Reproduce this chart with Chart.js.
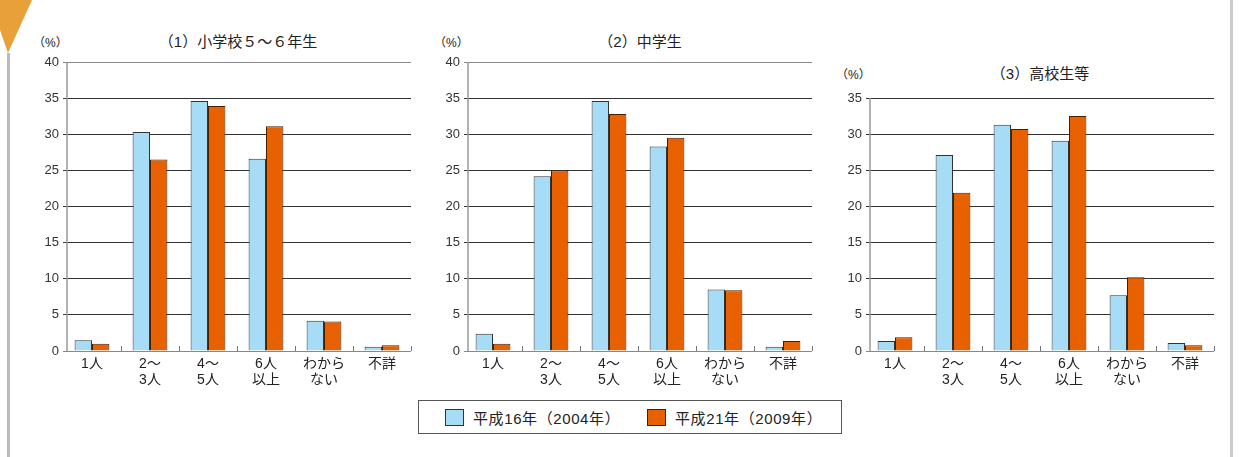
<!DOCTYPE html>
<html>
<head>
<meta charset="utf-8">
<script src="https://cdn.jsdelivr.net/npm/chart.js@4/dist/chart.umd.min.js"></script>
<style>
    body { margin: 0; background: #fff; font-family: "Liberation Sans", "Noto Sans CJK JP", sans-serif; color: #222; }
    #page { position: relative; width: 1239px; height: 457px; overflow: hidden; }
    .box { position: absolute; }
    .title { position: absolute; font-size: 15px; transform: translateX(-50%); white-space: nowrap; }
    .unit { position: absolute; font-size: 12px; white-space: nowrap; }
    #legend { position: absolute; left: 418px; top: 400px; width: 424px; height: 34px; border: 1px solid #555; box-sizing: border-box; font-size: 15px; }
    .sw { position: absolute; width: 19px; height: 17px; box-sizing: border-box; border: 1px solid #333; top: 8px; }
    .lt { position: absolute; top: 6px; white-space: nowrap; letter-spacing: 0.6px; }
</style>
</head>
<body>
<div id="page">
    <svg class="box" style="left:0;top:0" width="40" height="60"><polygon points="0,0 32,0 8,53 0,30" fill="#e8a03a"/></svg>
    <div class="box" style="left:7px;top:53px;width:3px;height:404px;background:#bbb"></div>
    <div class="box" style="left:1230px;top:0;width:3px;height:457px;background:#ccc"></div>

    <div class="unit" style="left:33px;top:33px">（%）</div>
    <div class="title" style="left:238px;top:30px">（1）小学校５～６年生</div>
    <div class="unit" style="left:434px;top:33px">（%）</div>
    <div class="title" style="left:640px;top:30px">（2）中学生</div>
    <div class="unit" style="left:836px;top:65px">（%）</div>
    <div class="title" style="left:1040px;top:62px">（3）高校生等</div>

    <div class="box" style="left:20px;top:40px"><canvas id="c1" width="400" height="360"></canvas></div>
    <div class="box" style="left:422px;top:40px"><canvas id="c2" width="400" height="360"></canvas></div>
    <div class="box" style="left:823px;top:40px"><canvas id="c3" width="400" height="360"></canvas></div>

    <div id="legend">
        <div class="sw" style="left:26px;background:#a6dcf6"></div>
        <div class="lt" style="left:54px">平成16年（2004年）</div>
        <div class="sw" style="left:228px;background:#e86100;border-color:#4a1e00"></div>
        <div class="lt" style="left:256px">平成21年（2009年）</div>
    </div>
</div>
<script>
// categories (multi-line labels)
const categories = [['1人'], ['2～', '3人'], ['4～', '5人'], ['6人', '以上'], ['わから', 'ない'], ['不詳']];
const seriesNames = ['平成16年（2004年）', '平成21年（2009年）'];

// (1) 小学校5～6年生
const elem2004 = [1.5, 30.3, 34.6, 26.6, 4.2, 0.6];
const elem2009 = [1.0, 26.5, 33.9, 31.1, 4.1, 0.8];
// (2) 中学生
const junior2004 = [2.4, 24.2, 34.6, 28.3, 8.5, 0.6];
const junior2009 = [1.0, 25.0, 32.8, 29.5, 8.4, 1.4];
// (3) 高校生等
const high2004 = [1.4, 27.1, 31.3, 29.1, 7.7, 1.1];
const high2009 = [1.9, 21.9, 30.7, 32.5, 10.2, 0.8];

const FONT = '"Liberation Sans", "Noto Sans CJK JP", sans-serif';

// y axis line drawn a little inside the plot, small marks between categories
const axisMarks = {
    id: 'axisMarks',
    afterDatasetsDraw(chart) {
        const x = chart.scales.x, ctx = chart.ctx;
        const {left, right, top, bottom} = chart.chartArea;
        ctx.save();
        ctx.strokeStyle = '#999';
        ctx.lineWidth = 1.5;
        ctx.beginPath();
        ctx.moveTo(left + 4, top);
        ctx.lineTo(left + 4, bottom);
        ctx.stroke();
        ctx.strokeStyle = '#777';
        ctx.lineWidth = 1;
        ctx.beginPath();
        for (let i = 1; i <= categories.length; i++) {
            const px = i < categories.length
                ? (x.getPixelForValue(i - 1) + x.getPixelForValue(i)) / 2
                : right;
            ctx.moveTo(Math.round(px) + 0.5, bottom);
            ctx.lineTo(Math.round(px) + 0.5, bottom - 5);
        }
        ctx.stroke();
        ctx.restore();
    }
};

function makeChart(id, a, b, max, padTop, axisW) {
    new Chart(document.getElementById(id), {
        type: 'bar',
        data: {
            labels: categories,
            datasets: [{
                label: seriesNames[0],
                data: a,
                backgroundColor: '#a6dcf6',
                borderColor: '#333',
                borderWidth: 1,
                categoryPercentage: 0.6,
                barPercentage: 1.0
            }, {
                label: seriesNames[1],
                data: b,
                backgroundColor: '#e86100',
                borderColor: '#4a1e00',
                borderWidth: 1,
                categoryPercentage: 0.6,
                barPercentage: 1.0
            }]
        },
        plugins: [axisMarks],
        options: {
            responsive: false,
            animation: false,
            layout: { padding: { top: padTop, right: 400 - axisW - 348, bottom: 0, left: 0 } },
            scales: {
                x: {
                    grid: { display: false, drawTicks: false },
                    border: { display: false },
                    ticks: {
                        color: '#222',
                        padding: 5,
                        maxRotation: 0,
                        autoSkip: false,
                        font: { family: FONT, size: 14, lineHeight: 1.15 }
                    },
                    afterFit(scale) { scale.height = 49; }
                },
                y: {
                    min: 0,
                    max: max,
                    ticks: {
                        stepSize: 5,
                        color: '#333',
                        padding: 4,
                        font: { family: FONT, size: 13 }
                    },
                    grid: {
                        color: ctx => (ctx.tick && (ctx.tick.value === 40 || ctx.tick.value === 0)) ? '#888' : '#333',
                        lineWidth: 1,
                        drawTicks: false
                    },
                    border: { display: false },
                    afterFit(scale) { scale.width = axisW; }
                }
            },
            plugins: {
                legend: { display: false },
                title: { display: false },
                tooltip: { enabled: false }
            }
        }
    });
}

makeChart('c1', elem2004, elem2009, 40, 22, 43);
makeChart('c2', junior2004, junior2009, 40, 22, 42);
makeChart('c3', high2004, high2009, 35, 58, 43);
</script>
</body>
</html>
